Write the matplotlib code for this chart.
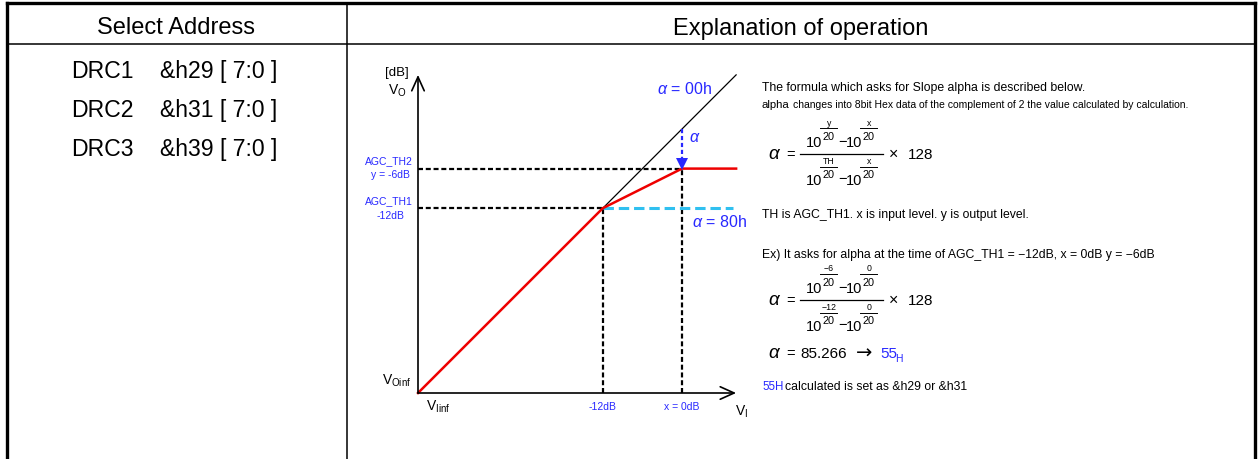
import matplotlib
matplotlib.use('Agg')
import matplotlib.pyplot as plt

plt.rcParams['font.family'] = ['Liberation Sans', 'DejaVu Sans']
plt.rcParams['mathtext.fontset'] = 'custom'
plt.rcParams['mathtext.rm'] = 'Liberation Sans'
plt.rcParams['mathtext.it'] = 'Liberation Sans:italic'
plt.rcParams['mathtext.bf'] = 'Liberation Sans:bold'
plt.rcParams['lines.scale_dashes'] = False

# ---------------- data ----------------
headers = ["Select Address", "Explanation of operation"]
drc_names = ["DRC1", "DRC2", "DRC3"]
drc_addr = ["&h29 [ 7:0 ]", "&h31 [ 7:0 ]", "&h39 [ 7:0 ]"]

v_inf = -40.0          # V_Iinf / V_Oinf (diagram floor, dB)
th1 = -12.0            # AGC_TH1 (dB)
th2_y = -6.0           # AGC_TH2 output y (dB)
x_in = 0.0             # input level x (dB)
v_end = 8.2            # end of drawn range (dB)
curve_x = [v_inf, th1, x_in, v_end]
curve_y = [v_inf, th1, th2_y, th2_y]
alpha_tags = ["00h", "80h"]
alpha_value = 85.266
alpha_hex = "55"

BLUE = '#2828ff'
CYAN = '#30c0f0'
RED = '#ee0000'

W, H = 1258, 460
fig = plt.figure(figsize=(W / 100, H / 100), dpi=100)
ax = fig.add_axes([0, 0, 1, 1])
ax.set_xlim(0, W)
ax.set_ylim(H, 0)
ax.axis('off')

# diagram axes in dB units
S = 6.6
dg = fig.add_axes([0, 0, 1, 1], facecolor='none')
dg.set_xlim((0 - 682) / S, (W - 682) / S)
dg.set_ylim((130 - H) / S, 130 / S)
dg.axis('off')

# ---------------- table ----------------
ax.plot([7, 7], [H, 4], color='black', lw=2.4, solid_capstyle='projecting')
ax.plot([1255, 1255], [H, 4], color='black', lw=2.4, solid_capstyle='projecting')
ax.plot([7, 1255], [4, 4], color='black', lw=2.4, solid_capstyle='projecting')
ax.plot([7, 1255], [45, 45], color='black', lw=1.1)
ax.plot([347, 347], [4, H], color='black', lw=1.1)

ax.text(176, 28.5, headers[0], ha='center', va='center', fontsize=17)
ax.text(801, 28.5, headers[1], ha='center', va='center', fontsize=17)
for i, (n, a) in enumerate(zip(drc_names, drc_addr)):
    y = 71.5 + i * 39
    ax.text(71, y, n, ha='left', va='center', fontsize=16.6)
    ax.text(160, y, a, ha='left', va='center', fontsize=16.6)

# ---------------- diagram ----------------
dash_k = dict(color='black', lw=1.6, dashes=(3.6, 2.0))
dg.plot([v_inf, x_in], [th2_y, th2_y], **dash_k)
dg.plot([v_inf, th1], [th1, th1], **dash_k)
dg.plot([th1, th1], [v_inf, th1], **dash_k)
dg.plot([x_in, x_in], [v_inf, th2_y], **dash_k)
dg.plot([th1, v_end - 0.4], [th1, th1], color=CYAN, lw=2.2, dashes=(7.5, 3.5))

dg.plot([th1, v_end], [th1, v_end], color='black', lw=0.9)
dg.plot(curve_x, curve_y, color=RED, lw=1.8, solid_joinstyle='miter')

arr = dict(arrowstyle='->,head_length=1.0,head_width=0.45', color='black', lw=1.2,
           shrinkA=0, shrinkB=0)
dg.annotate('', xy=(v_inf, v_end), xytext=(v_inf, v_inf), arrowprops=arr)
dg.annotate('', xy=(v_end, v_inf), xytext=(v_inf, v_inf), arrowprops=arr)

# alpha arrow
dg.plot([x_in, x_in], [x_in, th2_y + 1.3], color=BLUE, lw=1.6, dashes=(3.0, 2.0))
dg.plot([x_in], [th2_y + 0.75], marker='v', markersize=8, color=BLUE, mew=0)

# diagram labels (pixel axes)
ax.text(397, 73, "[dB]", ha='center', va='center', fontsize=9.5)
ax.text(397, 91, r"V$_\mathrm{O}$", ha='center', va='center', fontsize=10)
ax.text(389, 161, "AGC_TH2", ha='center', va='center', fontsize=7.5, color=BLUE)
ax.text(390, 175, "y = -6dB", ha='center', va='center', fontsize=7.5, color=BLUE)
ax.text(389, 201, "AGC_TH1", ha='center', va='center', fontsize=7.5, color=BLUE)
ax.text(390, 216, "-12dB", ha='center', va='center', fontsize=7.5, color=BLUE)
ax.text(712, 89, r"$\alpha$ = " + alpha_tags[0], ha='right', va='center', fontsize=11.5, color=BLUE)
ax.text(689, 138, r"$\alpha$", ha='left', va='center', fontsize=11.5, color=BLUE)
ax.text(747, 222, r"$\alpha$ = " + alpha_tags[1], ha='right', va='center', fontsize=11.5, color=BLUE)
ax.text(411, 381, r"V$_\mathrm{Oinf}$", ha='right', va='center', fontsize=10)
ax.text(426, 407, r"V$_\mathrm{Iinf}$", ha='left', va='center', fontsize=10)
ax.text(602, 407, "-12dB", ha='center', va='center', fontsize=7.5, color=BLUE)
ax.text(682, 407, "x = 0dB", ha='center', va='center', fontsize=7.5, color=BLUE)
ax.text(735, 412, r"V$_\mathrm{I}$", ha='left', va='center', fontsize=10)

# ---------------- explanation text ----------------
fs_t = 8.8
ax.text(762, 88, "The formula which asks for Slope alpha is described below.",
        ha='left', va='center', fontsize=fs_t)
ax.text(762, 105, "alpha", ha='left', va='center', fontsize=8.2)
ax.text(793, 105.5, "changes into 8bit Hex data of the complement of 2 the value calculated by calculation.",
        ha='left', va='center', fontsize=7.5)


def fmt(v):
    return ("\u2212%d" % abs(v)) if v < 0 else "%d" % v


def power10(xs, c, top, offs):
    ax.text(xs, c + 5.2, "10", ha='left', va='baseline', fontsize=10.5)
    ax.plot([xs + 14, xs + 31], [c + offs[0]] * 2, color='black', lw=0.7)
    ax.text(xs + 22.8, c + offs[1] + 4, "20", ha='center', va='baseline', fontsize=7.8)
    ax.text(xs + 23, c + offs[2], top, ha='center', va='center', fontsize=6.3)


def formula(bar_y, tops_num, tops_den):
    ax.text(768, bar_y, r"$\alpha$", ha='left', va='center', fontsize=13.5)
    ax.text(786, bar_y, "=", ha='left', va='center', fontsize=10.5)
    ax.plot([800, 883], [bar_y, bar_y], color='black', lw=0.9)
    rows = [(bar_y - 12.7, (-13.5, -6.0, -19.0), tops_num),
            (bar_y + 24.8, (-11.5, -5.5, -17.5), tops_den)]
    for c, offs, tops in rows:
        power10(806, c, tops[0], offs)
        ax.text(838, c, "\u2212", ha='left', va='center', fontsize=10.5)
        power10(846, c, tops[1], offs)
    ax.text(889, bar_y, "\u00d7", ha='left', va='center', fontsize=11.5)
    ax.text(908, bar_y, "128", ha='left', va='center', fontsize=11)


formula(154.7, ["y", "x"], ["TH", "x"])

ax.text(762, 215, "TH is AGC_TH1. x is input level. y is output level.",
        ha='left', va='center', fontsize=fs_t)
ax.text(762, 255, "Ex) It asks for alpha at the time of AGC_TH1 = %sdB, x = %sdB y = %sdB"
        % (fmt(th1), fmt(x_in), fmt(th2_y)), ha='left', va='center', fontsize=fs_t)

formula(300.7, [fmt(th2_y), fmt(x_in)], [fmt(th1), fmt(x_in)])

ax.text(768, 354, r"$\alpha$", ha='left', va='center', fontsize=13.5)
ax.text(786, 354, "=", ha='left', va='center', fontsize=10.5)
ax.text(800, 354, "%.3f" % alpha_value, ha='left', va='center', fontsize=11)
ax.text(856, 353, "\u2192", ha='left', va='center', fontsize=14,
        family=['DejaVu Sans'])
ax.text(880, 354, alpha_hex, ha='left', va='center', fontsize=11, color=BLUE)
ax.text(895, 359, "H", ha='left', va='center', fontsize=7.5, color=BLUE)

ax.text(762, 387, alpha_hex + "H", ha='left', va='center', fontsize=fs_t - 0.5, color=BLUE)
ax.text(785, 387, "calculated is set as &h29 or &h31", ha='left', va='center', fontsize=fs_t)

fig.savefig('out.png', dpi=100)
